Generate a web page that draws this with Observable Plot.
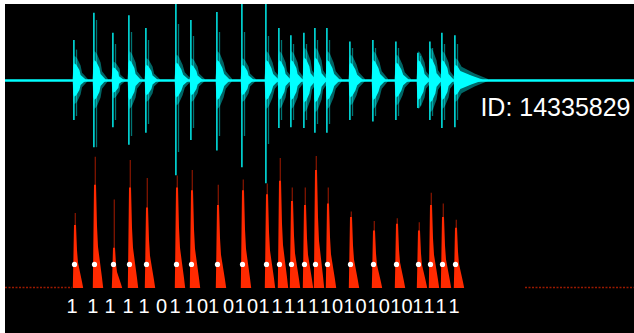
<!DOCTYPE html>
<html><head><meta charset="utf-8">
<script src="https://cdn.jsdelivr.net/npm/d3@7"></script>
<script src="https://cdn.jsdelivr.net/npm/@observablehq/plot@0.6"></script>
<style>
html,body{margin:0;padding:0;background:#fff;}
#wrap{position:absolute;left:5px;top:4px;width:629px;height:329px;background:#000;overflow:hidden;}
#wrap svg{position:absolute;left:0;top:0;}
</style></head><body><div id="wrap"></div>
<script>
// ---------- data (time in ms) ----------
const idLabel = "ID: 14335829";
const eventTimes = [345, 445, 540, 620, 705, 855, 930, 1060, 1185, 1305, 1370, 1430, 1495, 1550, 1610, 1725, 1840, 1955, 2065, 2125, 2185, 2250];
// waveform main spike extents (normalised amplitude)
const waveUp   = [0.50, 0.84, 0.59, 0.81, 0.65, 1.00, 0.75, 0.85, 1.00, 1.00, 0.65, 0.56, 0.59, 0.65, 0.65, 0.48, 0.50, 0.48, 0.34, 0.48, 0.59, 0.56];
const waveDown = [-0.50, -0.84, -0.59, -0.81, -0.66, -1.19, -0.75, -0.88, -1.09, -1.29, -0.60, -0.59, -0.60, -0.66, -0.66, -0.50, -0.52, -0.50, -0.35, -0.50, -0.60, -0.59];
// secondary (fainter) spikes
const echoUp   = [0.38, 0.75, 0.45, 0.60, 0.50, 0.70, 0.55, 0.60, 0.60, 0.55, 0.50, 0.45, 0.45, 0.50, 0.50, 0.40, 0.40, 0.40, 0.30, 0.40, 0.45, 0.45];
const echoDown = [-0.45, -0.84, -0.50, -0.70, -0.55, -0.90, -0.60, -0.70, -0.70, -0.80, -0.50, -0.50, -0.50, -0.55, -0.55, -0.45, -0.45, -0.45, -0.32, -0.45, -0.50, -0.50];
// dense body amplitude and its decay length (ms)
const bodyAmp  = [0.21, 0.25, 0.16, 0.25, 0.19, 0.22, 0.19, 0.25, 0.19, 0.25, 0.25, 0.25, 0.28, 0.28, 0.25, 0.22, 0.25, 0.22, 0.25, 0.28, 0.25, 0.19];
const bodyDecay = [60, 60, 55, 60, 60, 65, 60, 65, 60, 65, 60, 60, 60, 60, 65, 65, 65, 65, 60, 60, 60, 140];
// envelope (red) peak and body heights (0..1)
const envPeak = [0.56, 0.98, 0.66, 0.955, 0.82, 0.84, 0.88, 0.77, 0.81, 0.78, 0.97, 0.75, 0.75, 0.985, 0.75, 0.57, 0.50, 0.52, 0.49, 0.71, 0.63, 0.51];
const envBody = [0.47, 0.77, 0.30, 0.75, 0.60, 0.75, 0.73, 0.62, 0.73, 0.70, 0.80, 0.65, 0.62, 0.88, 0.63, 0.53, 0.43, 0.48, 0.43, 0.62, 0.53, 0.45];
const threshold = 0.18;
const envNoise = [{start: 0, end: 335, level: 0.008}, {start: 2600, end: 3145, level: 0.008}];
// decoded bits and their label positions
const bits = [1,1,1,1,1,0,1,1,0,1,0,1,0,1,1,1,1,1,1,0,1,0,1,0,1,0,1,1,1,1];
const bitTimes = [333, 437, 523, 613, 693, 780, 848, 923, 985, 1040, 1115, 1173, 1235, 1293, 1358, 1420, 1480, 1540, 1600, 1660, 1718, 1778, 1836, 1894, 1952, 2008, 2062, 2118, 2178, 2243];

// ---------- shape templates ----------
const bodyOffsets = [-3, 0, 5, 15, 30, 0.6, 1];   // last two are fractions of decay
const bodyLevels  = [0.05, 0.85, 1, 0.9, 0.6, 0.3, 0.04];
const envOffsets = [-6, -4, 0, 10, 15, 20, 30, 40, 46];
const envLevels  = [0, 0.3, 1, 1, 0.6, 0.4, 0.25, 0.1, 0];

const bodyRows = [], haloRows = [], envRows = [];
eventTimes.forEach((t, i) => {
  bodyOffsets.forEach((o, k) => {
    const dt = k >= 5 ? o * bodyDecay[i] : o;
    bodyRows.push({e: i, t: t + dt - 3, a: bodyAmp[i] * bodyLevels[k]});
    haloRows.push({e: i, t: t + dt * 1.2 - 3, a: bodyAmp[i] * 1.45 * bodyLevels[k]});
  });
  envOffsets.forEach((o, k) => envRows.push({e: i, t: t + o, v: envBody[i] * envLevels[k]}));
});
const events = eventTimes.map((t, i) => ({t, up: waveUp[i], down: waveDown[i], eu: echoUp[i], ed: echoDown[i], peak: envPeak[i]}));
const digits = bits.map((b, i) => ({t: bitTimes[i], b: String(b)}));

const W = 629, H = 329;
const xScale = {type: "linear", domain: [0, 3145], range: [0, W], axis: null};
const CYAN = "#00ffff", RED = "#ff2a00";
const font = "Liberation Sans, Arial, Helvetica, sans-serif";

// envelope panel (bottom layer)
const envPlot = Plot.plot({
  width: W, height: H, margin: 0,
  style: "background: transparent; overflow: hidden;",
  x: xScale,
  y: {domain: [0, 1], range: [284, 150], axis: null},
  marks: [
    Plot.ruleY(envNoise, {x1: "start", x2: "end", y: "level", stroke: RED, strokeOpacity: 0.6, strokeWidth: 1.5, strokeDasharray: "2,1.5"}),
    Plot.areaY(envRows, {x: "t", y1: 0, y2: "v", z: "e", fill: RED, curve: "linear"}),
    Plot.ruleX(events, {x: d => d.t + 4, y1: 0, y2: "peak", stroke: RED, strokeOpacity: 0.5, strokeWidth: 1.3}),
    Plot.dot(eventTimes, {x: d => d, y: threshold, r: 2.6, fill: "white", stroke: null}),
    Plot.text(digits, {x: "t", y: -0.138, text: "b", fill: "white", fontSize: 20, fontFamily: font, lineAnchor: "middle"})
  ]
});

// waveform panel (top layer)
const wavePlot = Plot.plot({
  width: W, height: H, margin: 0,
  style: "background: transparent; overflow: hidden;",
  x: xScale,
  y: {domain: [-1, 1], range: [156, -4], axis: null},
  marks: [
    Plot.ruleY([0], {x1: 0, x2: 3145, stroke: CYAN, strokeWidth: 2.5}),
    Plot.areaY(haloRows, {x: "t", y1: d => -d.a, y2: "a", z: "e", fill: CYAN, fillOpacity: 0.4}),
    Plot.ruleX(events, {x: d => d.t + 10, y1: "ed", y2: "eu", stroke: CYAN, strokeOpacity: 0.45, strokeWidth: 1.3}),
    Plot.areaY(bodyRows, {x: "t", y1: d => -d.a, y2: "a", z: "e", fill: CYAN}),
    Plot.ruleX(events, {x: d => d.t - 3, y1: "down", y2: "up", stroke: CYAN, strokeWidth: 1.4}),
    Plot.text([idLabel], {frameAnchor: "top-right", textAnchor: "end", lineAnchor: "top", dx: -4, dy: 94, fill: "white", fontSize: 25, fontFamily: font})
  ]
});

const wrap = document.getElementById("wrap");
wrap.appendChild(envPlot);
wrap.appendChild(wavePlot);
</script>
</body></html>
